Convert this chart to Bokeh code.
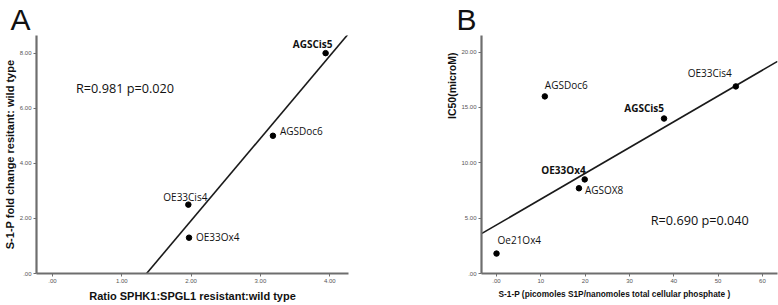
import numpy as np
from bokeh.plotting import figure
from bokeh.layouts import row
from bokeh.models import ColumnDataSource, FixedTicker, Label, Range1d, Title
from bokeh.core.properties import value, field
from bokeh.embed import file_html
from bokeh.resources import INLINE

# ---------------- Panel A data ----------------
a_names = ["AGSCis5", "AGSDoc6", "OE33Cis4", "OE33Ox4"]
a_ratio = [3.94, 3.18, 1.96, 1.97]
a_s1p_fold = [8.0, 5.0, 2.5, 1.3]
a_fit_slope = 2.99
a_fit_intercept = -4.06
a_stats = "R=0.981 p=0.020"
a_xtitle = "Ratio SPHK1:SPGL1 resistant:wild type"
a_ytitle = "S-1-P fold change resitant: wild type"
a_xticks = [0, 1, 2, 3, 4]
a_xtick_labels = [".00", "1.00", "2.00", "3.00", "4.00"]
a_yticks = [0, 2, 4, 6, 8]
a_ytick_labels = [".00", "2.00", "4.00", "6.00", "8.00"]

# ---------------- Panel B data ----------------
b_names = ["AGSDoc6", "OE33Cis4", "AGSCis5", "OE33Ox4", "AGSOX8", "Oe21Ox4"]
b_s1p = [10.9, 54.0, 37.8, 19.9, 18.6, 0.0]
b_ic50 = [16.0, 16.9, 14.0, 8.5, 7.7, 1.8]
b_fit_slope = 0.233
b_fit_intercept = 4.39
b_stats = "R=0.690 p=0.040"
b_xtitle = "S-1-P (picomoles S1P/nanomoles total cellular phosphate )"
b_ytitle = "IC50(microM)"
b_xticks = [0, 10, 20, 30, 40, 50, 60]
b_xtick_labels = [".00", "10", "20", "30", "40", "50", "60"]
b_yticks = [0, 5, 10, 15, 20]
b_ytick_labels = [".00", "5.00", "10.00", "15.00", "20.00"]

# label placement (styles, not data)
a_label_style = dict(
    xo=[-13, 7, -3, 7], yo=[-9, -5, -8, -1],
    align=["center", "left", "center", "left"],
    weight=["bold", "normal", "normal", "normal"],
)
b_label_style = dict(
    xo=[0, -4, 0, 1, 6, 1], yo=[-11, -13, -11, -9, 2, -14],
    align=["left", "right", "right", "right", "left", "left"],
    weight=["normal", "normal", "bold", "bold", "normal", "normal"],
)

AXIS_COL = "#6e6e6e"
TITLE_FONT = "Liberation Sans"
LABEL_FONT = "Open Sans"
FIG_H = 305
TXT = "#111111"


def style_axes(p, xticks, xlabels, yticks, ylabels):
    p.xaxis.ticker = FixedTicker(ticks=xticks)
    p.yaxis.ticker = FixedTicker(ticks=yticks)
    p.xaxis.major_label_overrides = {t: l for t, l in zip(xticks, xlabels)}
    p.yaxis.major_label_overrides = {t: l for t, l in zip(yticks, ylabels)}
    for ax in (p.xaxis, p.yaxis):
        ax.axis_line_color = AXIS_COL
        ax.axis_line_width = 2.2
        ax.major_tick_line_color = AXIS_COL
        ax.major_tick_in = 0
        ax.major_tick_out = 3
        ax.minor_tick_line_color = None
        ax.major_label_text_font = TITLE_FONT
        ax.major_label_text_font_size = "6px"
        ax.major_label_text_color = "#555555"
        ax.major_label_standoff = 2
        ax.axis_label_text_font = TITLE_FONT
        ax.axis_label_text_font_style = "bold"
        ax.axis_label_text_color = TXT
    p.xgrid.grid_line_color = None
    p.ygrid.grid_line_color = None
    p.outline_line_color = None


def make_panel(width, names, xs, ys, style, slope, intercept, xr, yr,
               borders, stats, stats_xy, letter, letter_offset):
    left, right, bottom = borders
    p = figure(width=width, height=FIG_H, output_backend="svg", toolbar_location=None,
               x_range=Range1d(*xr), y_range=Range1d(*yr),
               min_border_left=left, min_border_right=right,
               min_border_top=0, min_border_bottom=bottom)
    # panel letter as the plot title, pulled left of the frame
    p.title.text = letter
    p.title.align = "left"
    p.title.offset = letter_offset
    p.title.standoff = 0
    p.title.text_font = TITLE_FONT
    p.title.text_font_size = "30px"
    p.title.text_font_style = "normal"
    p.title.text_color = TXT
    fx = np.array(xr, dtype=float)
    p.line(fx, slope * fx + intercept, line_color="#1a1a1a", line_width=1.6)
    src = ColumnDataSource(dict(x=xs, y=ys, name=names, **style))
    p.scatter("x", "y", source=src, size=5.5, color="black")
    p.text("x", "y", text="name", source=src, x_offset="xo", y_offset="yo",
           text_align=field("align"), text_baseline="middle",
           text_font=value(LABEL_FONT), text_font_size="10px",
           text_font_style=field("weight"), text_color=TXT)
    p.add_layout(Label(x=stats_xy[0], y=stats_xy[1], text=stats, text_baseline="middle",
                       text_font=LABEL_FONT, text_font_size="12.7px", text_color=TXT))
    return p


# Panel A: frame spans x 33..348, bottom at y 273
pa = make_panel(390, a_names, a_ratio, a_s1p_fold, a_label_style,
                a_fit_slope, a_fit_intercept, (-0.23, 4.27), (0, 8.64),
                (33, 42, 32), a_stats, (0.34, 6.73), "A", -26)
style_axes(pa, a_xticks, a_xtick_labels, a_yticks, a_ytick_labels)
pa.xaxis.axis_label = a_xtitle
pa.xaxis.axis_label_text_font_size = "11px"
pa.xaxis.axis_label_standoff = 4
pa.yaxis.axis_label = a_ytitle
pa.yaxis.axis_label_text_font_size = "11px"
pa.yaxis.axis_label_standoff = 1

# Panel B: frame spans x 481..777, bottom at y 275
pb = make_panel(388, b_names, b_s1p, b_ic50, b_label_style,
                b_fit_slope, b_fit_intercept, (-3.39, 63.4), (0, 21.5),
                (91, 1, 30), b_stats, (34.8, 4.85), "B", -25)
style_axes(pb, b_xticks, b_xtick_labels, b_yticks, b_ytick_labels)
pb.add_layout(Title(text=b_xtitle, align="left", offset=17, standoff=2,
                    text_font=TITLE_FONT, text_font_size="8.3px",
                    text_font_style="bold", text_color=TXT), "below")
pb.add_layout(Title(text=b_ytitle, align="right", offset=17, standoff=2,
                    text_font=TITLE_FONT, text_font_size="10.5px",
                    text_font_style="bold", text_color=TXT), "left")

layout = row(pa, pb)
open("out.html", "w").write(file_html(layout, INLINE))
